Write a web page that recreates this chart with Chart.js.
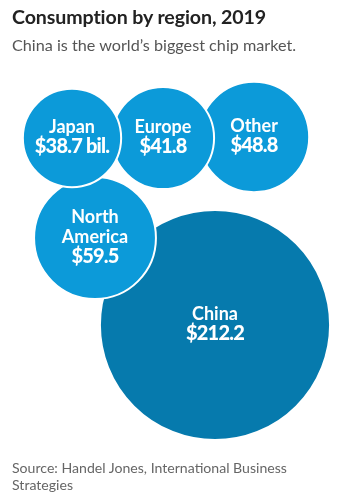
<!DOCTYPE html>
<html>
<head>
<meta charset="utf-8">
<script src="https://cdn.jsdelivr.net/npm/chart.js@4"></script>
<style>
  html, body { margin: 0; padding: 0; background: #fff; width: 342px; height: 502px; overflow: hidden; }
  #wrap { position: relative; width: 342px; height: 502px; }
  canvas { position: absolute; left: 0; top: 0; }
  .t { position: absolute; left: 12px; font-family: Lato, "Noto Sans", sans-serif; white-space: nowrap; }
  #title { top: 5px; font-size: 19.6px; font-weight: 700; color: #222; letter-spacing: -0.1px; }
  #sub { top: 35px; font-size: 16.2px; color: #555; }
  #src { top: 459px; font-size: 14.1px; color: #666; line-height: 17px; }
</style>
</head>
<body>
<div id="wrap">
  <canvas id="c" width="342" height="502"></canvas>
  <div class="t" id="title">Consumption by region, 2019</div>
  <div class="t" id="sub">China is the world’s biggest chip market.</div>
  <div class="t" id="src">Source: Handel Jones, International Business<br>Strategies</div>
</div>
<script>
// Data (drawing order: back to front)
const regions = ['China', 'Other', 'Europe', 'North America', 'Japan'];
const values = [212.2, 48.8, 41.8, 59.5, 38.7];           // $ billions
const valueSuffix = ['', '', '', '', ' bil.'];
// Packed-bubble layout positions (axis units)
const bubbleX = [215, 254, 163, 95, 72];
const bubbleY = [325, 137, 138, 238, 138];
const fillColors = ['#067aad', '#0c9ad9', '#0c9ad9', '#0c9ad9', '#0c9ad9'];

const RADIUS_PER_SQRT = 7.9; // bubble area proportional to value

const points = regions.map((r, i) => ({
  x: bubbleX[i], y: bubbleY[i], r: RADIUS_PER_SQRT * Math.sqrt(values[i])
}));

const labelPlugin = {
  id: 'bubbleLabels',
  afterDatasetsDraw(chart) {
    const ctx = chart.ctx;
    const meta = chart.getDatasetMeta(0);
    ctx.save();
    ctx.fillStyle = '#fff';
    ctx.textAlign = 'center';
    ctx.textBaseline = 'alphabetic';
    meta.data.forEach((el, i) => {
      const nameLines = regions[i].split(' ');
      const lines = nameLines.map(t => ({ t, bold: false }));
      lines.push({ t: '$' + values[i].toFixed(1) + valueSuffix[i], bold: true });
      const n = lines.length;
      lines.forEach((ln, k) => {
        const y = el.y + (k - (n - 1) / 2) * 20 + 5;
        if (ln.bold) {
          ctx.font = '900 20px Lato, sans-serif';
          ctx.letterSpacing = '-0.8px';
        } else {
          ctx.font = '700 18px Lato, sans-serif';
          ctx.letterSpacing = '0px';
        }
        ctx.fillText(ln.t, el.x, y);
      });
    });
    ctx.restore();
  }
};

new Chart(document.getElementById('c'), {
  type: 'bubble',
  data: {
    datasets: [{
      data: points,
      backgroundColor: fillColors,
      borderColor: '#ffffff',
      borderWidth: 2,
      hoverBorderWidth: 2,
      clip: false
    }]
  },
  options: {
    responsive: false,
    animation: false,
    events: [],
    layout: { padding: 0, autoPadding: false },
    plugins: { legend: { display: false }, tooltip: { enabled: false } },
    scales: {
      x: { type: 'linear', min: 0, max: 342, display: false },
      y: { type: 'linear', min: 0, max: 502, reverse: true, display: false }
    }
  },
  plugins: [labelPlugin]
});
</script>
</body>
</html>
